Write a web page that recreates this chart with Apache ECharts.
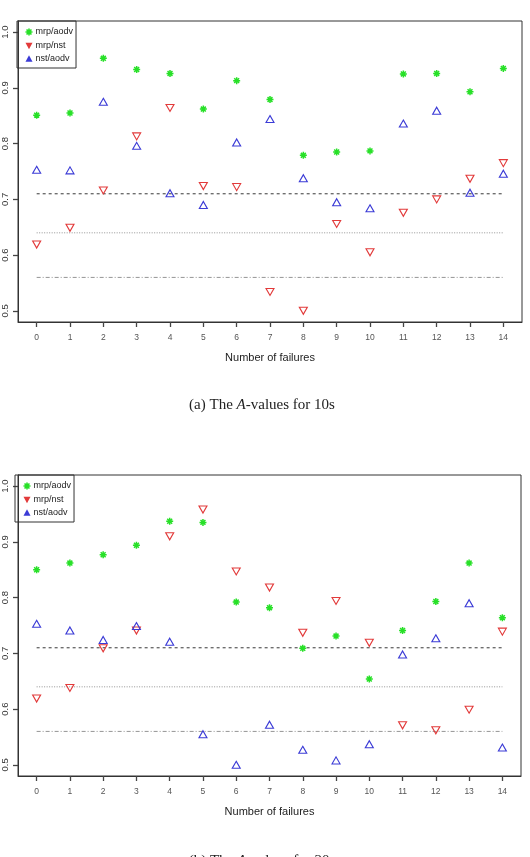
<!DOCTYPE html>
<html><head><meta charset="utf-8">
<script src="https://cdn.jsdelivr.net/npm/echarts@6/dist/echarts.min.js"></script>
<style>html,body{margin:0;padding:0;background:#fff}#c{width:530px;height:857px}</style>
</head><body><div id="c"></div>
<script>
// ---- data ----
const failures = [0,1,2,3,4,5,6,7,8,9,10,11,12,13,14];
const yTicks = [0.5,0.6,0.7,0.8,0.9,1.0];
const seriesNames = ['mrp/aodv','mrp/nst','nst/aodv'];
// (a) 10s
const a_mrpAodv = [0.851,0.855,0.953,0.933,0.926,0.862,0.913,0.879,0.779,0.785,0.787,0.925,0.926,0.893,0.935];
const a_mrpNst  = [0.619,0.649,0.716,0.813,0.864,0.724,0.722,0.534,0.500,0.656,0.605,0.676,0.700,0.737,0.765];
const a_nstAodv = [0.753,0.752,0.875,0.796,0.711,0.690,0.802,0.844,0.738,0.695,0.684,0.836,0.859,0.712,0.746];
// (b) 20s
const b_mrpAodv = [0.850,0.862,0.877,0.894,0.937,0.935,0.792,0.782,0.709,0.731,0.654,0.741,0.793,0.862,0.764];
const b_mrpNst  = [0.619,0.638,0.709,0.741,0.910,0.958,0.847,0.818,0.737,0.794,0.719,0.571,0.562,0.599,0.739];
const b_nstAodv = [0.753,0.741,0.724,0.749,0.721,0.555,0.500,0.572,0.527,0.508,0.537,0.698,0.727,0.790,0.531];
// reference levels (dashed, dotted, dot-dash)
const refLevels = [0.71, 0.64, 0.56];
const captions = ['(a) The {i|A}-values for 10s', '(b) The {i|A}-values for 20s'];
const xTitle = 'Number of failures';

// ---- styles ----
const GREEN = '#27e027', RED = '#e23a3a', BLUE = '#3b3bd6';
const ASTER = 'path://M0,5L10,5M5,0L5,10M1.5,1.5L8.5,8.5M8.5,1.5L1.5,8.5';
const refStyles = [
  {color:'#222', type:[3,3], width:0.9},
  {color:'#888', type:[1,1.5], width:0.9},
  {color:'#888', type:[4,2,1,2], width:0.9}
];
const panels = [
  {grid:{left:17, top:21, width:505, height:301}, data:[a_mrpAodv,a_mrpNst,a_nstAodv], capY:405},
  {grid:{left:15, top:475, width:506, height:301}, data:[b_mrpAodv,b_mrpNst,b_nstAodv], capY:861}
];
const pts = arr => failures.map((f,i)=>[f, arr[i]]);

const option = {
  animation:false,
  backgroundColor:'#fff',
  grid: panels.map(p=>Object.assign({show:true, borderColor:'#333', borderWidth:1, backgroundColor:'transparent'}, p.grid)),
  xAxis: panels.map((p,i)=>({
    gridIndex:i, type:'value', min:-0.56, max:14.56,
    axisLine:{show:true, onZero:false, lineStyle:{color:'#333', width:1}},
    axisTick:{show:true, customValues:failures, length:5, lineStyle:{color:'#444', width:1.3}},
    axisLabel:{customValues:failures, color:'#555', fontSize:8.5, margin:11, fontFamily:'Liberation Sans'},
    splitLine:{show:false},
    name:xTitle, nameLocation:'middle', nameGap:30,
    nameTextStyle:{fontSize:11, color:'#222', fontFamily:'Liberation Sans'}
  })),
  yAxis: panels.map((p,i)=>({
    gridIndex:i, type:'value', min:0.48, max:1.02,
    axisLine:{show:true, onZero:false, lineStyle:{color:'#333', width:1}},
    axisTick:{show:true, customValues:yTicks, length:5, lineStyle:{color:'#444', width:1.3}},
    axisLabel:{customValues:yTicks, rotate:90, formatter:v=>v.toFixed(1), color:'#333', fontSize:9.5, margin:8, fontFamily:'Liberation Sans'},
    splitLine:{show:false}
  })),
  legend: panels.map((p,i)=>({
    left:p.grid.left, top:p.grid.top, orient:'vertical',
    borderColor:'#333', borderWidth:1, borderRadius:0, padding:[5,3,5,6],
    itemWidth:7, itemHeight:7, itemGap:3.5,
    textStyle:{fontSize:9, color:'#222', fontFamily:'Liberation Sans', padding:[0,0,0,-2]},
    data:[
      {name:seriesNames[0], icon:ASTER, itemStyle:{color:'none', borderColor:GREEN, borderWidth:1.6}},
      {name:seriesNames[1], icon:'path://M0,0L10,0L5,9Z', itemStyle:{color:RED, borderWidth:0}},
      {name:seriesNames[2], icon:'path://M5,0L10,9L0,9Z', itemStyle:{color:BLUE, borderWidth:0}}
    ]
  })),
  series: [],
  graphic: panels.map((p,i)=>({
    type:'text', x:262, y:p.capY,
    style:{text:captions[i], align:'center', verticalAlign:'middle', fill:'#222',
      font:'15px "Liberation Serif"',
      rich:{i:{fontStyle:'italic', fontSize:15, fontFamily:'Liberation Serif', fill:'#222'}}}
  }))
};

panels.forEach((p,i)=>{
  refLevels.forEach((lv,k)=>{
    option.series.push({type:'line', xAxisIndex:i, yAxisIndex:i, silent:true, symbol:'none',
      data:[[failures[0],lv],[failures[failures.length-1],lv]], lineStyle:refStyles[k], z:1});
  });
  option.series.push({name:seriesNames[0], type:'scatter', xAxisIndex:i, yAxisIndex:i, data:pts(p.data[0]),
    symbol:ASTER, symbolSize:7, itemStyle:{color:'none', borderColor:GREEN, borderWidth:1.5, opacity:1}, z:3});
  option.series.push({name:seriesNames[1], type:'scatter', xAxisIndex:i, yAxisIndex:i, data:pts(p.data[1]),
    symbol:'path://M0,0L10,0L5,8.66Z', symbolSize:[8,7], itemStyle:{color:'none', borderColor:RED, borderWidth:1.1, opacity:1}, z:3});
  option.series.push({name:seriesNames[2], type:'scatter', xAxisIndex:i, yAxisIndex:i, data:pts(p.data[2]),
    symbol:'path://M5,0L10,8.66L0,8.66Z', symbolSize:[8,7], itemStyle:{color:'none', borderColor:BLUE, borderWidth:1.1, opacity:1}, z:3});
});

const chart = echarts.init(document.getElementById('c'));
chart.setOption(option);
</script></body></html>
